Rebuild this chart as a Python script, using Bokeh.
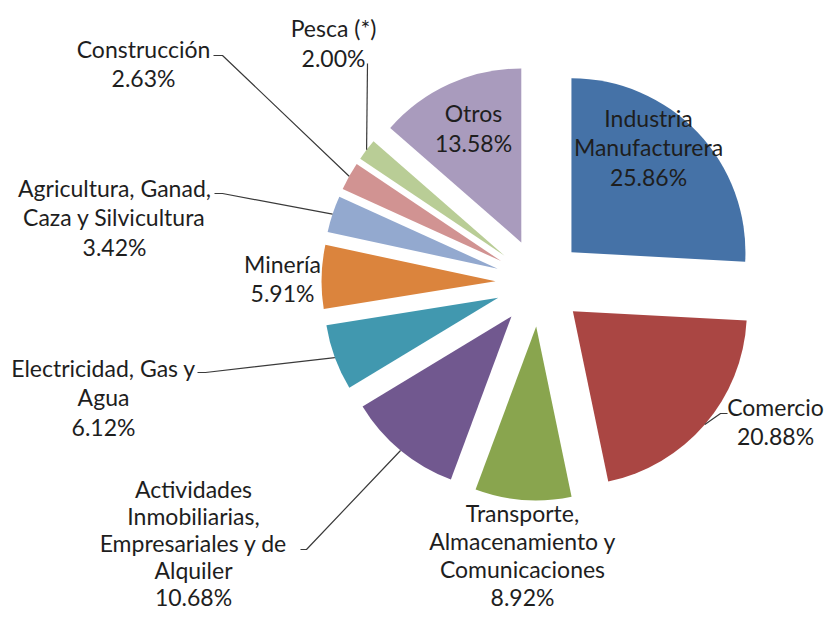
import math
from bokeh.plotting import figure
from bokeh.models import Range1d, ColumnDataSource
from bokeh.core.properties import value
from bokeh.embed import file_html
from bokeh.resources import INLINE

# ---------------- data ----------------
categories = ["Industria Manufacturera", "Comercio",
              "Transporte, Almacenamiento y Comunicaciones",
              "Actividades Inmobiliarias, Empresariales y de Alquiler",
              "Electricidad, Gas y Agua", "Minería",
              "Agricultura, Ganad, Caza y Silvicultura", "Construcción",
              "Pesca (*)", "Otros"]
shares = [25.86, 20.88, 8.92, 10.68, 6.12, 5.91, 3.42, 2.63, 2.00, 13.58]
label_lines = [["Industria", "Manufacturera"], ["Comercio"],
               ["Transporte,", "Almacenamiento y", "Comunicaciones"],
               ["Actividades", "Inmobiliarias,", "Empresariales y de", "Alquiler"],
               ["Electricidad, Gas y", "Agua"], ["Minería"],
               ["Agricultura, Ganad,", "Caza y Silvicultura"], ["Construcción"],
               ["Pesca (*)"], ["Otros"]]
colors = ["#4572A7", "#AA4643", "#89A54E", "#71588F", "#4198AF",
          "#DB843D", "#93A9CF", "#D19392", "#B9CD96", "#A99BBD"]

# ---------------- layout (pixels in the figure) ----------------
W, H = 824, 612
CX, CY = 539, 282          # pie centre
R = 174                    # radius
EXPLODE = 44               # slice offset
FONT = "Lato"
FSIZE = 23
# centre x / first-line y / line spacing of each label block
label_pos = [(648, 117, 29.5), (775, 406, 29.5), (522, 512, 28),
             (193, 488, 27), (103, 367, 29.5), (282, 263, 29.5),
             (114, 187, 29.5), (143, 48, 29.5), (333, 27, 30.5),
             (473, 112, 30)]
# leader start (label side) and elbow, None if no leader
leaders = [None, [(727, 413), (720, 413)], None, [(300, 549), (306, 549)],
           [(197, 372), (205, 372)], None, [(214, 193), (222, 193)],
           [(213, 55), (222, 55)], [(367, 63), (367, 63)], None]


def dx(px):
    return px - CX


def dy(py):
    return CY - py


p = figure(width=W, height=H, output_backend="svg", toolbar_location=None,
           x_range=Range1d(-CX, W - CX), y_range=Range1d(CY - H, CY),
           x_axis_type=None, y_axis_type=None, min_border=0,
           outline_line_color=None, background_fill_color="white")
p.grid.visible = False

total = sum(shares)
starts, ends, ox, oy, mids = [], [], [], [], []
cum = 0.0
for v in shares:
    a0 = math.pi / 2 - 2 * math.pi * cum / total
    cum += v
    a1 = math.pi / 2 - 2 * math.pi * cum / total
    mid = (a0 + a1) / 2
    starts.append(a1)
    ends.append(a0)
    mids.append(mid)
    ox.append(EXPLODE * math.cos(mid))
    oy.append(EXPLODE * math.sin(mid))

src = ColumnDataSource(dict(x=ox, y=oy, start=starts, end=ends, color=colors,
                            cat=categories, share=shares))
p.wedge(x="x", y="y", radius=R, start_angle="start", end_angle="end",
        direction="anticlock", fill_color="color", line_color=None, source=src)

# leader lines
for i, ld in enumerate(leaders):
    if ld is None:
        continue
    ax = (R + EXPLODE) * math.cos(mids[i])
    ay = (R + EXPLODE) * math.sin(mids[i])
    xs = [dx(ld[0][0]), dx(ld[1][0]), ax]
    ys = [dy(ld[0][1]), dy(ld[1][1]), ay]
    p.line(xs, ys, line_color="#3a3a3a", line_width=1.2)

# labels
tx, ty, tt = [], [], []
for i, lines in enumerate(label_lines):
    cxp, cyp, lh = label_pos[i]
    allines = lines + [f"{shares[i]:.2f}%"]
    for k, s in enumerate(allines):
        tx.append(dx(cxp))
        ty.append(dy(cyp + k * lh))
        tt.append(s)
p.text(x=tx, y=ty, text=tt, text_align="center", text_baseline="middle",
       text_font=value(FONT), text_font_size=f"{FSIZE}px", text_color="#1e1e1e")

open("out.html", "w").write(file_html(p, INLINE))
